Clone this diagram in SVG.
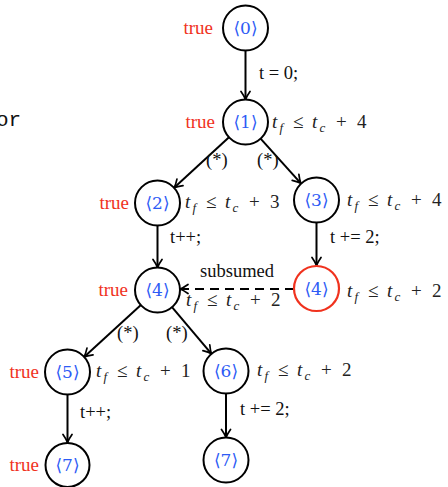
<svg xmlns="http://www.w3.org/2000/svg" width="448" height="487" viewBox="0 0 448 487">
<style>
text{font-family:'Liberation Serif',serif}
.nd{fill:#fff;stroke:#000;stroke-width:2}
.ndr{fill:#fff;stroke:#f0321e;stroke-width:2.2}
text.id{font-family:'DejaVu Serif',serif;font-size:17px;fill:#2d5bf5;text-anchor:middle}
.tr{font-size:19px;fill:#f0321e;text-anchor:end}
.m{font-size:19px;fill:#222}
.i{font-size:19px;font-style:italic;fill:#222}
.s{font-style:italic;font-size:13px;fill:#222}
.el{font-size:18.5px;fill:#111}
.e{fill:none;stroke:#000;stroke-width:2}
.d{fill:none;stroke:#000;stroke-width:2.2;stroke-dasharray:9 6}
text.mono{font-family:'Liberation Mono',monospace;font-size:21px;fill:#111}
</style>
<defs>
<marker id="arr" viewBox="-10 -6 12 12" refX="0" refY="0" markerWidth="12" markerHeight="12" orient="auto" markerUnits="userSpaceOnUse">
<path d="M-8,-4.5 Q-3,-1 0,0 Q-3,1 -8,4.5" fill="none" stroke="#000" stroke-width="1.7" stroke-linecap="round"/>
</marker>
</defs>
<text class="mono" x="-4" y="126">or</text>
<g id="connectors">
<path class="e" d="M245.5,50.5 L245.5,99.5" marker-end="url(#arr)"/>
<path class="e" d="M229,137.2 L174.1,187.8" marker-end="url(#arr)"/>
<path class="e" d="M260.6,138.7 L300.9,183.3" marker-end="url(#arr)"/>
<path class="e" d="M157.5,225.5 L157.5,267.5" marker-end="url(#arr)"/>
<path class="e" d="M316.5,222.5 L316.5,265.5" marker-end="url(#arr)"/>
<path class="d" d="M294,289 L180,289" marker-end="url(#arr)"/>
<path class="e" d="M140.9,305.1 L84.1,356.9" marker-end="url(#arr)"/>
<path class="e" d="M172,307.2 L211.5,353.8" marker-end="url(#arr)"/>
<path class="e" d="M67.5,394.5 L67.5,442.5" marker-end="url(#arr)"/>
<path class="e" d="M226,393.5 L226,437.5" marker-end="url(#arr)"/>
<text class="el" x="259" y="79">t = 0;</text>
<text class="el" x="206" y="166">(*)</text>
<text class="el" x="257" y="166">(*)</text>
<text class="el" x="170" y="243">t++;</text>
<text class="el" x="330" y="243">t += 2;</text>
<text class="el" x="200" y="277">subsumed</text>
<text class="el" x="117" y="339">(*)</text>
<text class="el" x="166" y="339">(*)</text>
<text class="el" x="80" y="418">t++;</text>
<text class="el" x="240" y="415">t += 2;</text>
</g>
<g id="n0">
<circle class="nd" cx="245.5" cy="28" r="22.5"/>
<text class="id" x="245.5" y="34">⟨0⟩</text>
<text class="tr" x="213" y="34">true</text>
</g>
<g id="n1">
<circle class="nd" cx="245.5" cy="122" r="22.5"/>
<text class="id" x="245.5" y="128">⟨1⟩</text>
<text class="tr" x="215" y="128">true</text>
<text class="i" x="272" y="128">t</text><text class="s" x="279.5" y="132">f</text><text class="m" x="293" y="128">≤</text><text class="i" x="312" y="128">t</text><text class="s" x="319.5" y="132">c</text><text class="m" x="336" y="128">+</text><text class="m" x="357" y="128">4</text>
</g>
<g id="n2">
<circle class="nd" cx="157.5" cy="203" r="22.5"/>
<text class="id" x="157.5" y="209">⟨2⟩</text>
<text class="tr" x="129" y="209">true</text>
<text class="i" x="185" y="208">t</text><text class="s" x="192.5" y="212">f</text><text class="m" x="206" y="208">≤</text><text class="i" x="225" y="208">t</text><text class="s" x="232.5" y="212">c</text><text class="m" x="249" y="208">+</text><text class="m" x="270" y="208">3</text>
</g>
<g id="n3">
<circle class="nd" cx="316.5" cy="200" r="22.5"/>
<text class="id" x="316.5" y="206">⟨3⟩</text>
<text class="i" x="347" y="206">t</text><text class="s" x="354.5" y="210">f</text><text class="m" x="368" y="206">≤</text><text class="i" x="387" y="206">t</text><text class="s" x="394.5" y="210">c</text><text class="m" x="411" y="206">+</text><text class="m" x="432" y="206">4</text>
</g>
<g id="n4">
<circle class="nd" cx="157.5" cy="290" r="22.5"/>
<text class="id" x="157.5" y="296">⟨4⟩</text>
<text class="tr" x="128" y="296">true</text>
<text class="i" x="186" y="306">t</text><text class="s" x="193.5" y="310">f</text><text class="m" x="207" y="306">≤</text><text class="i" x="226" y="306">t</text><text class="s" x="233.5" y="310">c</text><text class="m" x="250" y="306">+</text><text class="m" x="271" y="306">2</text>
</g>
<g id="n4s">
<circle class="ndr" cx="316.5" cy="288.5" r="22.5"/>
<text class="id" x="316.5" y="294.5">⟨4⟩</text>
<text class="i" x="347" y="297">t</text><text class="s" x="354.5" y="301">f</text><text class="m" x="368" y="297">≤</text><text class="i" x="387" y="297">t</text><text class="s" x="394.5" y="301">c</text><text class="m" x="411" y="297">+</text><text class="m" x="432" y="297">2</text>
</g>
<g id="n5">
<circle class="nd" cx="67.5" cy="372" r="22.5"/>
<text class="id" x="67.5" y="378">⟨5⟩</text>
<text class="tr" x="39" y="378">true</text>
<text class="i" x="96" y="377">t</text><text class="s" x="103.5" y="381">f</text><text class="m" x="117" y="377">≤</text><text class="i" x="136" y="377">t</text><text class="s" x="143.5" y="381">c</text><text class="m" x="160" y="377">+</text><text class="m" x="181" y="377">1</text>
</g>
<g id="n6">
<circle class="nd" cx="226" cy="371" r="22.5"/>
<text class="id" x="226" y="377">⟨6⟩</text>
<text class="i" x="257" y="376">t</text><text class="s" x="264.5" y="380">f</text><text class="m" x="278" y="376">≤</text><text class="i" x="297" y="376">t</text><text class="s" x="304.5" y="380">c</text><text class="m" x="321" y="376">+</text><text class="m" x="342" y="376">2</text>
</g>
<g id="n7a">
<circle class="nd" cx="67.5" cy="465" r="22"/>
<text class="id" x="67.5" y="471">⟨7⟩</text>
<text class="tr" x="39" y="471">true</text>
</g>
<g id="n7b">
<circle class="nd" cx="226" cy="460" r="22.5"/>
<text class="id" x="226" y="466">⟨7⟩</text>
</g>
</svg>
